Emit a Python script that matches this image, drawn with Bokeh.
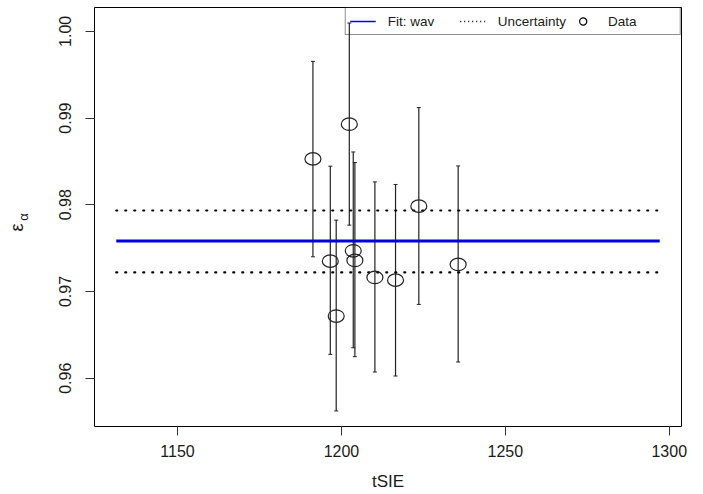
from bokeh.plotting import figure
from bokeh.models import (Range1d, FixedTicker, PrintfTickFormatter, Whisker, TeeHead,
                          ColumnDataSource, Legend, LegendItem, Title)
from bokeh.embed import file_html
from bokeh.resources import INLINE

# ---- data ----
tsie = [1191.3, 1202.4, 1196.6, 1198.4, 1203.6, 1204.1, 1210.2, 1216.5, 1223.6, 1235.6]
eps = [0.98529, 0.98929, 0.97350, 0.96717, 0.97469, 0.97358, 0.97162, 0.97131, 0.97984, 0.97312]
eps_upper = [0.99654, 1.00096, 0.98445, 0.97823, 0.98609, 0.98487, 0.98264, 0.98234, 0.99121, 0.98448]
eps_lower = [0.97400, 0.97765, 0.96275, 0.95622, 0.96351, 0.96248, 0.96071, 0.96025, 0.96851, 0.96187]
fit_x = [1131.3, 1297.1]
fit_value = 0.97581
unc_upper = 0.97934
unc_lower = 0.97220
x_ticks = [1150, 1200, 1250, 1300]
y_ticks = [0.96, 0.97, 0.98, 0.99, 1.00]

FONT = "Liberation Sans"
TXT = "#1a1a1a"
W, H = 703, 494
BL, BR, BT, BB = 94, 22, 7, 68

# R-style 4% padding
xmin, xmax = min(fit_x), max(fit_x)
ymin, ymax = min(eps_lower), max(eps_upper)
dx, dy = (xmax - xmin) * 0.04, (ymax - ymin) * 0.04
x0, x1 = xmin - dx, xmax + dx
y0, y1 = ymin - dy, ymax + dy

p = figure(width=W, height=H, output_backend="svg", toolbar_location=None,
           x_range=Range1d(x0, x1), y_range=Range1d(y0, y1),
           min_border_left=BL, min_border_right=BR, min_border_top=BT, min_border_bottom=BB)
p.grid.visible = False
p.background_fill_color = "white"
p.border_fill_color = "white"
p.outline_line_color = "black"
p.outline_line_width = 1

for ax in (p.xaxis[0], p.yaxis[0]):
    ax.axis_line_color = None
    ax.major_tick_out = 9
    ax.major_tick_in = 0
    ax.minor_tick_line_color = None
    ax.major_tick_line_color = "#333333"
    ax.major_label_text_font = FONT
    ax.major_label_text_font_size = "16px"
    ax.major_label_text_color = TXT

p.xaxis.ticker = FixedTicker(ticks=x_ticks)
p.yaxis.ticker = FixedTicker(ticks=y_ticks)
p.yaxis.formatter = PrintfTickFormatter(format="%.2f")
p.yaxis.major_label_orientation = "vertical"
p.xaxis.major_label_standoff = 9
p.yaxis.major_label_standoff = 14
p.xaxis.axis_label = "tSIE"
p.xaxis.axis_label_text_font = FONT
p.xaxis.axis_label_text_font_style = "normal"
p.xaxis.axis_label_text_font_size = "17px"
p.xaxis.axis_label_text_color = TXT
p.xaxis.axis_label_standoff = 12

# y label: epsilon with alpha subscript
p.yaxis.axis_label = "α"
p.yaxis.axis_label_text_font = FONT
p.yaxis.axis_label_text_font_style = "normal"
p.yaxis.axis_label_text_font_size = "13px"
p.yaxis.axis_label_text_color = TXT
p.yaxis.axis_label_standoff = 26

eps_title = Title(text="ε", align="left", offset=195, vertical_align="bottom", standoff=-29,
                  text_font=FONT, text_font_style="normal", text_font_size="18px",
                  text_color=TXT)
p.add_layout(eps_title, "left")

# fit and uncertainty
p.line(fit_x, [fit_value, fit_value], line_color="#0000dd", line_width=3)
p.line(fit_x, [unc_upper, unc_upper], line_color="black", line_width=2.2,
       line_dash="1 8", line_cap="round")
p.line(fit_x, [unc_lower, unc_lower], line_color="black", line_width=2.2,
       line_dash="1 8", line_cap="round")

# error bars
src = ColumnDataSource(dict(x=tsie, y=eps, upper=eps_upper, lower=eps_lower))
wh = Whisker(base="x", upper="upper", lower="lower", source=src, line_color="#222222",
             line_width=1.2,
             upper_head=TeeHead(size=4, line_color="#222222", line_width=1),
             lower_head=TeeHead(size=4, line_color="#222222", line_width=1))
p.add_layout(wh)

p.ellipse("x", "y", width=16, height=12.5, width_units="screen", height_units="screen",
          source=src, fill_color=None, line_color="#222222", line_width=1.2)

# legend-only renderers (not visible in the plot area)
nan = float("nan")
r_leg_fit = p.line([nan, nan], [nan, nan], line_color="#0000ee", line_width=1.5)
r_leg_unc = p.line([nan, nan], [nan, nan], line_color="black", line_width=1.5,
                   line_dash="1 3")
r_leg_data = p.scatter([nan], [nan], marker="circle", size=6, fill_color=None,
                       line_color="black", line_width=1.2)

legend = Legend(items=[LegendItem(label="Fit: wav", renderers=[r_leg_fit]),
                       LegendItem(label="Uncertainty", renderers=[r_leg_unc]),
                       LegendItem(label="Data", renderers=[r_leg_data])],
                location="top_right", orientation="horizontal", margin=0,
                padding=4, spacing=4, glyph_width=26, glyph_height=18,
                label_standoff=12, label_width=68, label_height=18,
                label_text_font=FONT, label_text_font_size="13.5px",
                label_text_color=TXT, border_line_color="#222222", border_line_width=1,
                background_fill_alpha=0)
p.add_layout(legend)

open("out.html", "w").write(file_html(p, INLINE))
